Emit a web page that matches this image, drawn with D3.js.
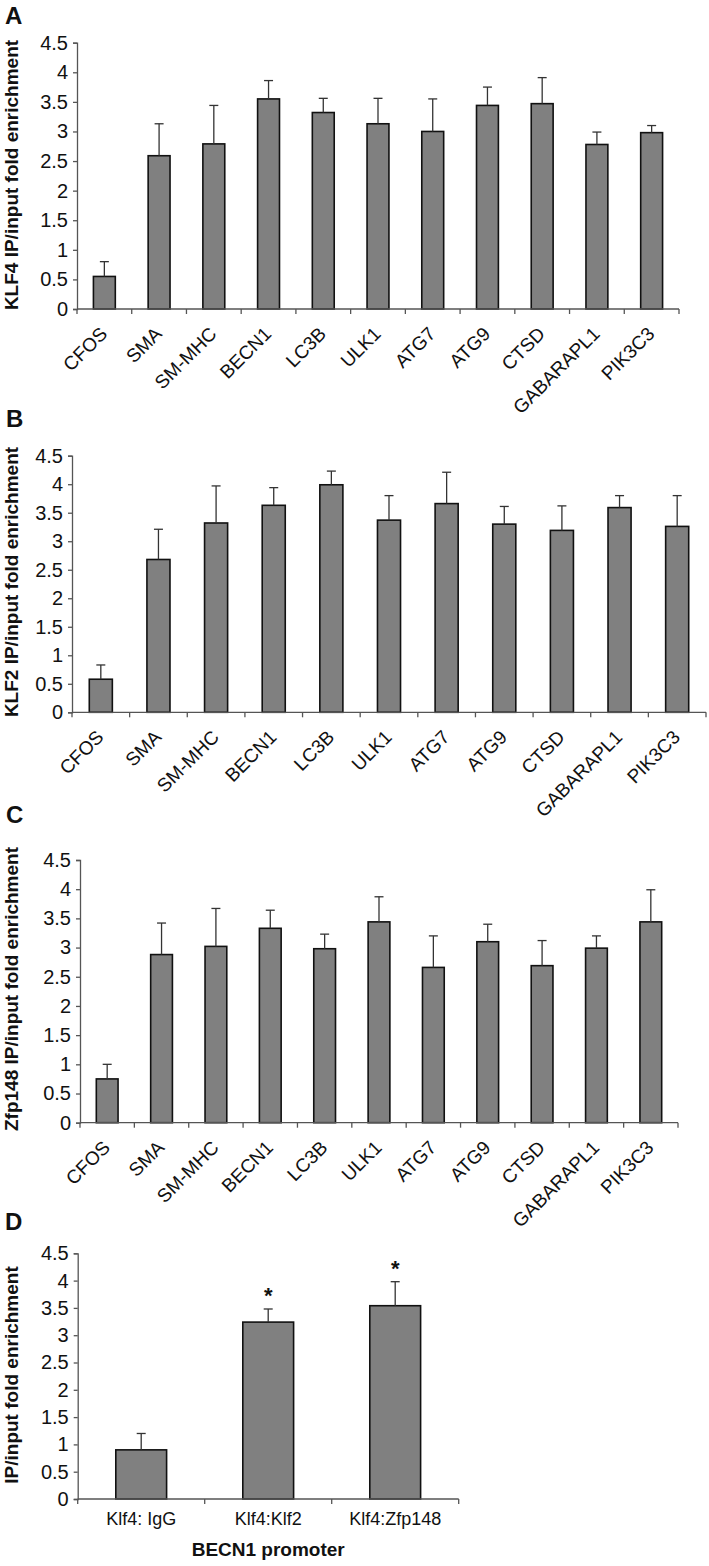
<!DOCTYPE html>
<html>
<head>
<meta charset="utf-8">
<script src="https://cdn.jsdelivr.net/npm/d3@7"></script>
<style>
  html, body { margin: 0; padding: 0; background: #fff; }
  svg { display: block; }
  text { font-family: "Liberation Sans", Arial, sans-serif; fill: #111; }
</style>
</head>
<body>
<svg id="chart" width="709" height="1566"></svg>
<script>
// ---------- data ----------
const genes = ["CFOS", "SMA", "SM-MHC", "BECN1", "LC3B", "ULK1", "ATG7", "ATG9", "CTSD", "GABARAPL1", "PIK3C3"];
const yTicks = [0, 0.5, 1, 1.5, 2, 2.5, 3, 3.5, 4, 4.5];

const klf4Values = [0.55, 2.59, 2.79, 3.55, 3.32, 3.13, 3.00, 3.44, 3.47, 2.78, 2.98];
const klf4Errors = [0.25, 0.54, 0.65, 0.31, 0.24, 0.43, 0.55, 0.31, 0.44, 0.21, 0.12];

const klf2Values = [0.58, 2.68, 3.32, 3.63, 3.99, 3.37, 3.66, 3.30, 3.19, 3.59, 3.26];
const klf2Errors = [0.25, 0.53, 0.65, 0.31, 0.24, 0.43, 0.55, 0.31, 0.43, 0.21, 0.54];

const zfpValues = [0.75, 2.88, 3.02, 3.33, 2.98, 3.44, 2.66, 3.10, 2.69, 2.99, 3.44];
const zfpErrors = [0.25, 0.54, 0.65, 0.31, 0.25, 0.43, 0.54, 0.30, 0.43, 0.21, 0.55];

const promoterCategories = ["Klf4: IgG", "Klf4:Klf2", "Klf4:Zfp148"];
const promoterValues = [0.90, 3.24, 3.54];
const promoterErrors = [0.30, 0.24, 0.44];
const promoterStars = [false, true, true];

// ---------- drawing ----------
const svg = d3.select("#chart");

function drawPanel(o) {
  const g = svg.append("g");
  const x = d3.scaleBand().domain(o.categories).range([o.x0, o.x1])
    .paddingInner(0.6).paddingOuter(0.3);
  const y = d3.scaleLinear().domain([0, 4.5]).range([o.yBottom, o.yTop]);
  const data = o.categories.map((c, i) => ({ c, v: o.values[i], e: o.errors[i], star: o.stars ? o.stars[i] : false }));

  // panel letter
  g.append("text").attr("x", o.letterX).attr("y", o.letterY)
    .attr("font-size", 24).attr("font-weight", "bold").text(o.letter);

  // y axis
  const yAxis = d3.axisLeft(y).tickValues(yTicks).tickSize(4).tickPadding(5)
    .tickFormat(d => String(d));
  const ya = g.append("g").attr("transform", `translate(${o.x0},0)`).call(yAxis);
  ya.select(".domain").attr("stroke", "#555").attr("stroke-width", 1.3);
  ya.selectAll(".tick line").attr("stroke", "#555").attr("stroke-width", 1.3);
  ya.selectAll(".tick text").attr("font-size", 20).attr("font-family", "Liberation Sans, Arial, sans-serif").attr("fill", "#111");

  // y title
  g.append("text")
    .attr("transform", `translate(${o.titleX},${(o.titleCenter)}) rotate(-90)`)
    .attr("text-anchor", "middle").attr("font-size", 19).attr("font-weight", "bold")
    .text(o.yTitle);

  // bars
  g.selectAll("rect.bar").data(data).join("rect")
    .attr("class", "bar")
    .attr("x", d => x(d.c))
    .attr("y", d => y(d.v))
    .attr("width", x.bandwidth())
    .attr("height", d => y(0) - y(d.v))
    .attr("fill", "#808080").attr("stroke", "#111").attr("stroke-width", 1.6);

  // error bars (upper only)
  const cap = 4.5;
  g.selectAll("line.err").data(data).join("line")
    .attr("class", "err")
    .attr("x1", d => x(d.c) + x.bandwidth() / 2).attr("x2", d => x(d.c) + x.bandwidth() / 2)
    .attr("y1", d => y(d.v)).attr("y2", d => y(d.v + d.e))
    .attr("stroke", "#333").attr("stroke-width", 1.3);
  g.selectAll("line.cap").data(data).join("line")
    .attr("class", "cap")
    .attr("x1", d => x(d.c) + x.bandwidth() / 2 - cap).attr("x2", d => x(d.c) + x.bandwidth() / 2 + cap)
    .attr("y1", d => y(d.v + d.e)).attr("y2", d => y(d.v + d.e))
    .attr("stroke", "#333").attr("stroke-width", 1.3);

  // significance stars
  g.selectAll("text.star").data(data.filter(d => d.star)).join("text")
    .attr("class", "star")
    .attr("x", d => x(d.c) + x.bandwidth() / 2)
    .attr("y", d => y(d.v + d.e) - 6)
    .attr("text-anchor", "middle").attr("font-size", 22).attr("font-weight", "bold")
    .text("*");

  // x axis line with boundary ticks
  g.append("line").attr("x1", o.x0).attr("x2", o.x1).attr("y1", y(0)).attr("y2", y(0))
    .attr("stroke", "#555").attr("stroke-width", 1.3);
  const step = x.step();
  const bounds = d3.range(o.categories.length + 1).map(i => x(o.categories[0]) - step * 0.3 + i * step);
  g.selectAll("line.xt").data(bounds).join("line")
    .attr("class", "xt")
    .attr("x1", d => d).attr("x2", d => d)
    .attr("y1", y(0)).attr("y2", y(0) + 5)
    .attr("stroke", "#555").attr("stroke-width", 1.3);

  // category labels
  if (o.rotate) {
    g.selectAll("text.cat").data(data).join("text")
      .attr("class", "cat")
      .attr("transform", d => `translate(${x(d.c) + x.bandwidth() / 2 + 4},${y(0) + 26}) rotate(-45)`)
      .attr("text-anchor", "end").attr("font-size", 19)
      .text(d => d.c);
  } else {
    g.selectAll("text.cat").data(data).join("text")
      .attr("class", "cat")
      .attr("x", d => x(d.c) + x.bandwidth() / 2)
      .attr("y", y(0) + 26)
      .attr("text-anchor", "middle").attr("font-size", 18)
      .text(d => d.c);
  }
  if (o.xTitle) {
    g.append("text").attr("x", (o.x0 + o.x1) / 2).attr("y", o.xTitleY)
      .attr("text-anchor", "middle").attr("font-size", 19).attr("font-weight", "bold")
      .text(o.xTitle);
  }
}

drawPanel({
  letter: "A", letterX: 5, letterY: 24,
  categories: genes, values: klf4Values, errors: klf4Errors,
  x0: 77, x1: 679, yTop: 42.7, yBottom: 309,
  yTitle: "KLF4 IP/input fold enrichment", titleX: 18, titleCenter: 175,
  rotate: true
});
drawPanel({
  letter: "B", letterX: 6, letterY: 427,
  categories: genes, values: klf2Values, errors: klf2Errors,
  x0: 72, x1: 706, yTop: 455.7, yBottom: 712.3,
  yTitle: "KLF2 IP/input fold enrichment", titleX: 18, titleCenter: 582,
  rotate: true
});
drawPanel({
  letter: "C", letterX: 6, letterY: 823,
  categories: genes, values: zfpValues, errors: zfpErrors,
  x0: 80, x1: 678, yTop: 860, yBottom: 1122.7,
  yTitle: "Zfp148 IP/input fold enrichment", titleX: 18, titleCenter: 989,
  rotate: true
});
drawPanel({
  letter: "D", letterX: 5, letterY: 1230,
  categories: promoterCategories, values: promoterValues, errors: promoterErrors, stars: promoterStars,
  x0: 77.7, x1: 458.7, yTop: 1253.3, yBottom: 1499,
  yTitle: "IP/input fold enrichment", titleX: 18, titleCenter: 1375,
  rotate: false, xTitle: "BECN1 promoter", xTitleY: 1556
});
</script>
</body>
</html>
